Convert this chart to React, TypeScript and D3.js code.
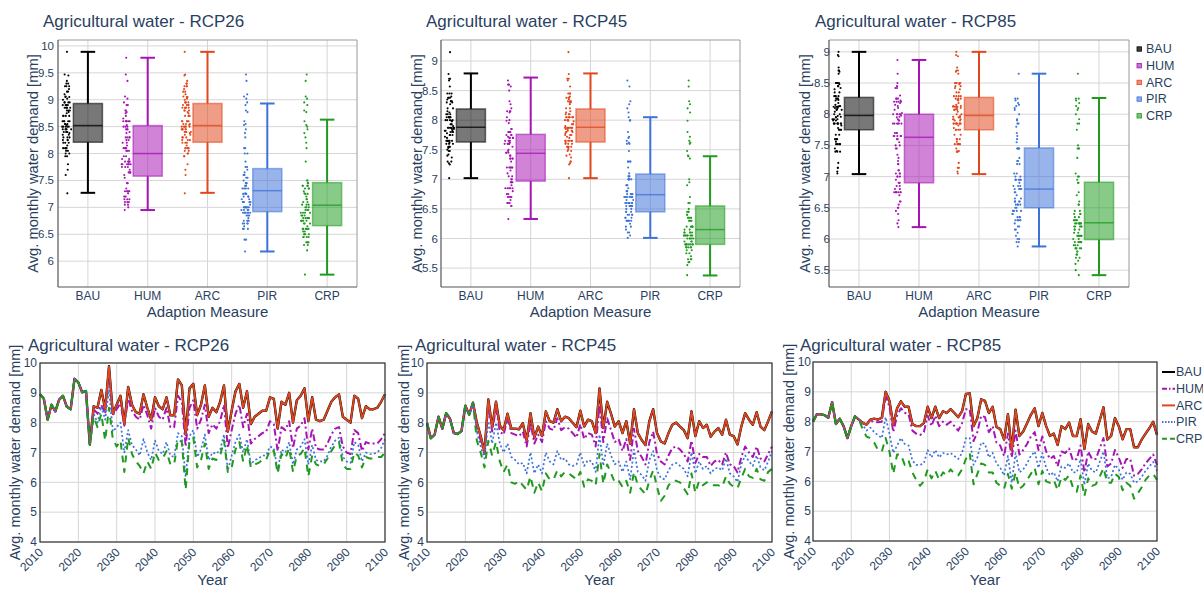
import React from 'react';
import * as d3 from 'd3';

// ---------- categories / axes ----------
const measures = ['BAU', 'HUM', 'ARC', 'PIR', 'CRP'];
const years = d3.range(2010, 2101);
const yearTicks = [2010, 2020, 2030, 2040, 2050, 2060, 2070, 2080, 2090, 2100];
const lineYTicks = [4, 5, 6, 7, 8, 9, 10];
const box26Ticks = [6, 6.5, 7, 7.5, 8, 8.5, 9, 9.5, 10];
const box45Ticks = [5.5, 6, 6.5, 7, 7.5, 8, 8.5, 9];
const box85Ticks = [5.5, 6, 6.5, 7, 7.5, 8, 8.5, 9];

// ---------- RCP26 yearly series (2010-2100) ----------
const pre26 = [8.95, 8.8, 8.1, 8.6, 8.38, 8.77, 8.9, 8.53, 8.45, 9.47, 9.35, 9.02, 9.06, 7.26];
const bau26 = [...pre26,
  8.55, 8.5, 9.1, 8.45, 9.89, 8.3,
  8.6, 8.9, 7.95, 9.2, 8.6, 8.35, 8.3, 8.95, 8.5, 8.1,
  8.85, 8.55, 8.45, 8.85, 8.25, 8.25, 9.45, 9.25, 7.6, 9.15,
  9.3, 8.25, 8.6, 9.25, 8.2, 8.5, 8.35, 8.7, 9.25, 7.7,
  8.4, 9.05, 9.3, 8.5, 9.05, 7.95, 8.2, 8.3, 8.4, 8.4,
  8.85, 8.8, 7.8, 8.7, 8.6, 9.0, 8.0, 8.75, 8.9, 9.15,
  8.05, 8.85, 8.1, 8.05, 8.1, 8.4, 8.7, 8.85, 8.95, 8.2,
  8.1, 8.0, 8.9, 8.8, 8.15, 8.55, 8.45, 8.45, 8.5, 8.7,
  8.95];
const hum26 = [...pre26,
  8.45, 8.3, 8.6, 8.3, 9.78, 8.25,
  8.45, 8.65, 7.9, 8.8, 8.4, 8.2, 8.1, 8.6, 8.25, 7.8,
  8.5, 8.2, 8.1, 8.5, 7.85, 7.85, 8.9, 8.7, 7.2, 8.5,
  8.75, 7.8, 8.1, 8.6, 7.65, 7.95, 7.8, 8.05, 8.6, 7.15,
  7.75, 8.3, 8.6, 7.85, 8.3, 7.3, 7.45, 7.55, 7.65, 7.7,
  8.05, 7.95, 7.05, 7.85, 7.75, 8.05, 7.15, 7.8, 7.9, 8.15,
  7.1, 7.8, 7.15, 7.1, 7.1, 7.3, 7.6, 7.8, 7.85, 7.2,
  7.0, 6.95, 7.75, 7.65, 7.05, 7.35, 7.3, 7.3, 7.3, 7.45,
  7.65];
const arc26 = bau26;
const pir26 = [...pre26,
  8.3, 8.0, 8.55, 8.1, 9.1, 7.7,
  7.85, 8.0, 7.0, 7.75, 7.25, 7.1, 6.9, 7.45, 7.0, 6.75,
  7.4, 7.05, 6.95, 7.35, 6.9, 6.85, 7.65, 7.55, 6.18, 7.55,
  7.75, 6.85, 7.1, 7.6, 6.75, 7.0, 6.95, 7.1, 7.6, 6.4,
  6.9, 7.35, 7.6, 7.0, 7.45, 6.6, 6.75, 6.8, 6.9, 6.9,
  7.2, 7.15, 6.4, 7.1, 7.0, 7.35, 6.6, 7.1, 7.2, 7.45,
  6.6, 7.25, 6.75, 6.7, 6.7, 6.9, 7.2, 7.4, 7.5, 6.85,
  6.7, 6.65, 7.35, 7.25, 6.7, 7.0, 6.95, 6.95, 7.0, 7.15,
  7.45];
const crp26 = [...pre26,
  8.2, 7.85, 8.3, 7.4, 8.5, 7.45,
  7.2, 7.4, 6.35, 7.5, 6.95, 6.7, 6.55, 6.3, 6.7, 6.45,
  7.0, 6.75, 6.8, 7.05, 6.6, 6.6, 7.45, 7.35, 5.75, 7.4,
  7.5, 6.5, 6.75, 7.3, 6.45, 6.8, 6.75, 6.9, 7.4, 6.35,
  6.5, 7.1, 7.35, 6.7, 7.25, 6.5, 6.6, 6.65, 6.75, 6.75,
  7.1, 7.05, 6.3, 6.95, 6.8, 7.15, 6.35, 6.9, 6.95, 7.15,
  6.2, 6.9, 6.6, 6.55, 6.6, 6.8, 7.05, 7.25, 7.35, 6.6,
  6.45, 6.45, 7.0, 6.9, 6.5, 6.85, 6.8, 6.8, 6.85, 6.85,
  7.0];

// ---------- RCP45 yearly series ----------
const pre45 = [7.99, 7.48, 7.6, 8.2, 7.8, 8.32, 8.13, 7.65, 7.62, 7.72, 8.57, 8.27, 8.67];
const bau45 = [...pre45,
  8.0, 7.55, 7.02, 8.78, 7.85, 8.7, 7.9,
  7.75, 8.3, 7.8, 7.8, 7.78, 7.98, 7.4, 8.32, 7.5, 7.87,
  7.55, 8.38, 8.05, 8.0, 8.45, 8.05, 8.2, 8.15, 8.0, 7.85,
  8.4, 7.87, 8.1, 8.05, 7.65, 9.15, 7.82, 8.7, 8.3, 7.87,
  8.05, 7.65, 8.05, 7.3, 8.45, 7.65, 7.42, 7.25, 8.05, 8.45,
  7.65, 7.37, 7.3, 7.65, 7.93, 8.0, 7.87, 7.75, 7.48, 8.38,
  7.55, 8.05, 7.82, 7.93, 7.53, 7.7, 7.82, 7.6, 8.1, 7.6,
  7.55, 7.27, 7.87, 8.32, 8.1, 7.93, 8.35, 7.87, 7.75, 8.05,
  8.38];
const hum45 = [...pre45,
  7.85, 7.4, 6.95, 8.6, 7.7, 8.5, 7.7,
  7.6, 8.15, 7.65, 7.6, 7.55, 7.7, 7.2, 8.0, 7.3, 7.6,
  7.35, 8.05, 7.8, 7.75, 8.15, 7.75, 7.85, 7.8, 7.65, 7.5,
  7.95, 7.45, 7.65, 7.6, 7.2, 8.6, 7.35, 8.15, 7.75, 7.35,
  7.45, 7.05, 7.45, 6.75, 7.8, 7.05, 6.85, 6.6, 7.35, 7.7,
  6.95, 6.7, 6.6, 6.9, 7.15, 7.2, 7.1, 6.95, 6.7, 7.4,
  6.65, 6.95, 6.85, 6.85, 6.55, 6.7, 6.75, 6.6, 7.0, 6.6,
  6.55, 6.33, 6.85, 7.2, 7.0, 6.85, 7.2, 6.8, 6.7, 6.95,
  7.2];
const arc45 = bau45;
const pir45 = [...pre45,
  7.7, 7.2, 6.8, 8.05, 7.3, 8.0, 7.3,
  7.0, 7.3, 6.85, 6.75, 6.6, 6.65, 6.3, 7.0, 6.3, 6.6,
  6.3, 7.0, 6.7, 6.6, 7.05, 6.75, 6.8, 6.6, 6.55, 6.6,
  7.0, 6.55, 6.75, 6.7, 6.35, 7.6, 6.55, 7.3, 6.9, 6.6,
  6.7, 6.35, 6.7, 6.1, 7.1, 6.35, 6.25, 6.05, 6.75, 7.05,
  6.4, 6.15, 6.1, 6.4, 6.6, 6.65, 6.55, 6.45, 6.2, 7.0,
  6.3, 6.7, 6.45, 6.55, 6.3, 6.45, 6.5, 6.4, 6.8, 6.3,
  6.2, 6.01, 6.6, 6.9, 6.7, 6.55, 6.9, 6.5, 6.4, 6.7,
  7.05];
const crp45 = [...pre45,
  7.4, 7.0, 6.5, 7.39, 6.9, 7.35, 6.7,
  6.35, 6.6, 6.0, 5.95, 6.05, 5.9, 5.75, 6.2, 5.65, 6.0,
  5.7, 6.3, 6.1, 6.1, 6.4, 6.2, 6.35, 6.3, 6.2, 6.1,
  6.35, 5.85, 6.1, 6.05, 5.9, 6.95, 5.95, 6.6, 6.3, 6.0,
  6.05, 5.85, 6.05, 5.65, 6.35, 5.9, 5.75, 5.6, 6.05, 6.4,
  5.85, 5.38, 5.55, 5.9, 6.05, 6.05, 6.0, 5.8, 5.6, 6.3,
  5.65, 6.05, 5.9, 6.0, 5.9, 5.9, 5.9, 5.85, 6.2, 5.95,
  5.85, 5.8, 6.15, 6.45, 6.2, 6.15, 6.45, 6.1, 6.05, 6.35,
  6.45];

// ---------- RCP85 yearly series ----------
const pre85 = [8.0, 8.25, 8.25, 8.22, 8.13, 8.65, 7.92, 8.1, 7.85, 7.45, 7.85, 8.18, 8.07];
const bau85 = [...pre85,
  7.96, 7.9, 8.07, 8.1, 8.07, 8.13, 9.0,
  8.7, 7.9, 8.45, 8.68, 8.5, 8.5, 7.92, 7.85, 7.85, 7.95,
  8.5, 8.12, 8.5, 8.12, 8.35, 8.29, 8.42, 8.29, 8.15, 8.35,
  8.93, 8.95, 7.85, 8.12, 8.75, 8.7, 8.29, 8.5, 7.82, 7.75,
  7.4, 8.25, 7.05, 8.4, 7.52, 7.67, 7.95, 8.23, 8.45, 7.85,
  8.29, 7.85, 7.52, 7.6, 7.22, 7.85, 7.75, 7.97, 7.52, 7.52,
  8.08, 7.08, 7.92, 7.67, 7.6, 8.04, 8.48, 7.4, 7.52, 8.12,
  7.85, 7.41, 7.75, 7.75, 7.14, 7.14, 7.4, 7.6, 7.78, 8.0,
  7.56];
const hum85 = [...pre85,
  7.96, 7.9, 8.02, 8.0, 7.98, 8.0, 8.87,
  8.5, 7.65, 8.2, 8.45, 8.3, 8.25, 7.7, 7.6, 7.55, 7.65,
  8.2, 7.85, 8.2, 7.85, 8.0, 7.9, 8.0, 7.85, 7.7, 7.95,
  8.42, 8.42, 7.35, 7.65, 8.2, 8.15, 7.65, 7.85, 7.3, 7.2,
  6.85, 7.6, 6.8, 7.7, 6.9, 7.05, 7.25, 7.5, 7.65, 7.05,
  7.5, 7.0, 6.75, 6.85, 6.5, 7.0, 6.95, 7.1, 6.7, 6.75,
  7.2, 6.3, 7.0, 6.75, 6.75, 7.1, 7.45, 6.5, 6.6, 7.05,
  6.8, 6.45, 6.75, 6.75, 6.19, 6.25, 6.4, 6.6, 6.75, 6.9,
  6.55];
const arc85 = bau85;
const pir85 = [...pre85,
  7.9, 7.7, 7.8, 7.65, 7.55, 7.45, 8.15,
  7.6, 6.95, 7.2, 7.45, 7.25, 7.2, 6.7, 6.55, 6.55, 6.6,
  7.05, 6.8, 7.05, 6.8, 6.95, 6.9, 6.95, 6.85, 6.75, 6.95,
  7.45, 7.45, 6.55, 6.8, 7.3, 7.25, 6.8, 6.95, 6.6, 6.45,
  6.2, 6.85, 5.95, 6.95, 6.3, 6.4, 6.6, 6.85, 7.0, 6.45,
  6.95, 6.45, 6.2, 6.3, 6.0, 6.5, 6.45, 6.6, 6.3, 6.3,
  6.75, 5.88, 6.6, 6.35, 6.3, 6.65, 7.0, 6.1, 6.15, 6.55,
  6.4, 6.05, 6.3, 6.25, 5.95, 6.0, 6.15, 6.35, 6.5, 6.65,
  6.35];
const crp85 = [...pre85,
  7.75, 7.5, 7.45, 7.3, 7.05, 7.0, 7.45,
  7.0, 6.25, 6.9, 6.9, 6.55, 6.7, 6.3, 6.05, 5.85, 6.0,
  6.4, 6.1, 6.35, 6.05, 6.3, 6.2, 6.4, 6.25, 6.2, 6.4,
  6.75, 6.95, 5.9, 6.25, 6.6, 6.55, 6.3, 6.3, 5.95, 5.85,
  5.75, 6.25, 5.75, 6.3, 5.75, 5.85, 6.05, 6.25, 6.45, 5.9,
  6.35, 6.0, 5.95, 6.05, 5.7, 6.15, 6.05, 6.2, 5.8, 5.65,
  6.2, 5.5, 6.1, 5.85, 5.9, 6.15, 6.45, 5.95, 5.95, 6.25,
  6.15, 5.7, 5.95, 5.85, 5.42, 5.6, 5.8, 6.05, 6.2, 6.25,
  6.05];

// ---------- box statistics (BAU, HUM, ARC, PIR, CRP) ----------
const box26Lo = [7.27, 6.95, 7.27, 6.18, 5.75];
const box26Q1 = [8.21, 7.58, 8.21, 6.92, 6.66];
const box26Med = [8.52, 8.0, 8.52, 7.31, 7.04];
const box26Q3 = [8.93, 8.52, 8.93, 7.72, 7.46];
const box26Hi = [9.89, 9.78, 9.89, 8.93, 8.63];

const box45Lo = [7.02, 6.33, 7.02, 6.01, 5.375];
const box45Q1 = [7.63, 6.97, 7.63, 6.45, 5.9];
const box45Med = [7.88, 7.44, 7.88, 6.74, 6.15];
const box45Q3 = [8.19, 7.76, 8.19, 7.09, 6.55];
const box45Hi = [8.79, 8.72, 8.79, 8.05, 7.39];

const box85Lo = [7.04, 6.19, 7.04, 5.88, 5.42];
const box85Q1 = [7.75, 6.9, 7.75, 6.5, 5.99];
const box85Med = [7.98, 7.63, 7.98, 6.8, 6.26];
const box85Q3 = [8.27, 8.0, 8.27, 7.46, 6.91];
const box85Hi = [9.0, 8.87, 9.0, 8.65, 8.26];

// ---------- styles ----------
const colors = ['#000000', '#a614b4', '#e2461c', '#3d72d8', '#1f9a1f'];
const dashes = ['', '7,3,2,3', '', '2,2.4', '7,6'];
const widths = [2.4, 2, 1.8, 1.7, 2];
const FONT = '"Liberation Sans", Arial, Helvetica, sans-serif';
const TXT = '#2a3f5f';
const GRID = '#d6d6d6';

function jit(i: number, k: number) {
  const s = Math.sin((i + 1) * 12.9898 + (k + 1) * 78.233) * 43758.5453;
  return s - Math.floor(s) - 0.5;
}

type BoxP = {
  title: string; titleX: number; left: number; right: number; top: number; bottom: number;
  yDomain: number[]; ticks: number[]; tickEnd: number; yTitleX: number;
  lo: number[]; q1: number[]; med: number[]; q3: number[]; hi: number[]; series: number[][];
};

function BoxPanel({ p }: { p: BoxP }) {
  const y = d3.scaleLinear().domain(p.yDomain).range([p.bottom, p.top]);
  const x = d3.scalePoint<string>().domain(measures).range([p.left, p.right]).padding(0.5);
  const step = x.step();
  const hw = step * 0.243;
  const cw = hw * 0.5;
  const cy = (p.top + p.bottom) / 2;
  const cxm = (p.left + p.right) / 2;
  return (
    <g>
      <text x={p.titleX} y={27} fontSize={17} fill={TXT}>{p.title}</text>
      {p.ticks.map((t) => (
        <line key={'h' + t} x1={p.left} x2={p.right} y1={y(t)} y2={y(t)} stroke={GRID} strokeWidth={1} />
      ))}
      {measures.map((m) => (
        <line key={'v' + m} x1={x(m)} x2={x(m)} y1={p.top} y2={p.bottom} stroke={GRID} strokeWidth={1} />
      ))}
      {p.ticks.map((t) => (
        <text key={'t' + t} x={p.tickEnd} y={y(t)} dy="0.35em" textAnchor="end" fontSize={11.5} fill={TXT}>{String(t)}</text>
      ))}
      {measures.map((m, k) => {
        const cx = x(m) as number;
        const vals = p.series[k];
        const dens = vals.map((v) => vals.filter((w) => Math.abs(w - v) < 0.2).length);
        const maxD = d3.max(dens) as number;
        const c = colors[k];
        return (
          <g key={m}>
            {vals.map((v, i) => (
              <circle key={i} cx={cx - hw * 1.48 + jit(i, k) * 10 * (0.25 + 0.75 * dens[i] / maxD)} cy={y(v)} r={1.05} fill={c} />
            ))}
            <line x1={cx} x2={cx} y1={y(p.hi[k])} y2={y(p.q3[k])} stroke={c} strokeWidth={2} />
            <line x1={cx} x2={cx} y1={y(p.q1[k])} y2={y(p.lo[k])} stroke={c} strokeWidth={2} />
            <line x1={cx - cw} x2={cx + cw} y1={y(p.hi[k])} y2={y(p.hi[k])} stroke={c} strokeWidth={2} />
            <line x1={cx - cw} x2={cx + cw} y1={y(p.lo[k])} y2={y(p.lo[k])} stroke={c} strokeWidth={2} />
            <rect x={cx - hw} width={hw * 2} y={y(p.q3[k])} height={y(p.q1[k]) - y(p.q3[k])} fill={c} fillOpacity={0.53} stroke={c} strokeOpacity={0.55} strokeWidth={1.5} />
            <line x1={cx - hw} x2={cx + hw} y1={y(p.med[k])} y2={y(p.med[k])} stroke={c} strokeOpacity={0.75} strokeWidth={1.5} />
            <text x={cx} y={300} textAnchor="middle" fontSize={12} fill={TXT}>{m}</text>
          </g>
        );
      })}
      <line x1={p.left} x2={p.right} y1={p.top} y2={p.top} stroke="#9a9a9a" strokeWidth={1} />
      <line x1={p.right} x2={p.right} y1={p.top} y2={p.bottom} stroke="#9a9a9a" strokeWidth={1} />
      <line x1={p.left} x2={p.left} y1={p.top} y2={p.bottom} stroke="#555" strokeWidth={1.2} />
      <line x1={p.left} x2={p.right} y1={p.bottom} y2={p.bottom} stroke="#555" strokeWidth={1.2} />
      <text x={cxm} y={317} textAnchor="middle" fontSize={15} fill={TXT}>Adaption Measure</text>
      <text transform={`translate(${p.yTitleX},${cy}) rotate(-90)`} textAnchor="middle" dy="0.35em" fontSize={14.7} fill={TXT}>Avg. monthly water demand [mm]</text>
    </g>
  );
}

type LineP = {
  title: string; titleX: number; left: number; right: number; top: number; bottom: number;
  yTitleX: number; tickEnd: number; series: number[][];
};

function LinePanel({ p }: { p: LineP }) {
  const x = d3.scaleLinear().domain([2010, 2100]).range([p.left, p.right]);
  const y = d3.scaleLinear().domain([4, 10]).range([p.bottom, p.top]);
  const line = d3.line<number>().x((_, i) => x(years[i])).y((v) => y(v));
  const cy = (p.top + p.bottom) / 2;
  const cxm = (p.left + p.right) / 2;
  return (
    <g>
      <text x={p.titleX} y={351} fontSize={17} fill={TXT}>{p.title}</text>
      {lineYTicks.map((t) => (
        <line key={'h' + t} x1={p.left} x2={p.right} y1={y(t)} y2={y(t)} stroke={GRID} strokeWidth={1} />
      ))}
      {yearTicks.map((t) => (
        <line key={'v' + t} x1={x(t)} x2={x(t)} y1={p.top} y2={p.bottom} stroke={GRID} strokeWidth={1} />
      ))}
      {p.series.map((s, k) => (
        <path key={k} d={line(s) as string} fill="none" stroke={colors[k]} strokeWidth={widths[k]} strokeDasharray={dashes[k] || undefined} strokeLinejoin="round" />
      ))}
      <rect x={p.left} y={p.top} width={p.right - p.left} height={p.bottom - p.top} fill="none" stroke="#333" strokeWidth={1.2} />
      {lineYTicks.map((t) => (
        <text key={'t' + t} x={p.tickEnd} y={y(t)} dy="0.35em" textAnchor="end" fontSize={12} fill={TXT}>{String(t)}</text>
      ))}
      {yearTicks.map((t) => (
        <text key={'x' + t} transform={`translate(${x(t) + 4},${p.bottom + 11}) rotate(-45)`} textAnchor="end" fontSize={12} fill={TXT}>{String(t)}</text>
      ))}
      <text x={cxm} y={585} textAnchor="middle" fontSize={15} fill={TXT}>Year</text>
      <text transform={`translate(${p.yTitleX},${cy}) rotate(-90)`} textAnchor="middle" dy="0.35em" fontSize={14.5} fill={TXT}>Avg. monthly water demand [mm]</text>
    </g>
  );
}

const boxPanels: BoxP[] = [
  { title: 'Agricultural water - RCP26', titleX: 43, left: 58, right: 357, top: 40, bottom: 287, yDomain: [5.52, 10.11], ticks: box26Ticks, tickEnd: 54, yTitleX: 33,
    lo: box26Lo, q1: box26Q1, med: box26Med, q3: box26Q3, hi: box26Hi, series: [bau26, hum26, arc26, pir26, crp26] },
  { title: 'Agricultural water - RCP45', titleX: 426, left: 441, right: 740, top: 40, bottom: 287, yDomain: [5.18, 9.355], ticks: box45Ticks, tickEnd: 438, yTitleX: 417,
    lo: box45Lo, q1: box45Q1, med: box45Med, q3: box45Q3, hi: box45Hi, series: [bau45, hum45, arc45, pir45, crp45] },
  { title: 'Agricultural water - RCP85', titleX: 815, left: 829, right: 1129, top: 40, bottom: 287, yDomain: [5.23, 9.19], ticks: box85Ticks, tickEnd: 830, yTitleX: 805,
    lo: box85Lo, q1: box85Q1, med: box85Med, q3: box85Q3, hi: box85Hi, series: [bau85, hum85, arc85, pir85, crp85] },
];

const linePanels: LineP[] = [
  { title: 'Agricultural water - RCP26', titleX: 28, left: 40, right: 385, top: 363, bottom: 542, yTitleX: 15, tickEnd: 37, series: [bau26, hum26, arc26, pir26, crp26] },
  { title: 'Agricultural water - RCP45', titleX: 415, left: 427, right: 772, top: 363, bottom: 542, yTitleX: 404, tickEnd: 424, series: [bau45, hum45, arc45, pir45, crp45] },
  { title: 'Agricultural water - RCP85', titleX: 800, left: 813, right: 1157, top: 362, bottom: 541, yTitleX: 789, tickEnd: 811, series: [bau85, hum85, arc85, pir85, crp85] },
];

export default function App() {
  return (
    <svg width={1203} height={590} style={{ position: 'absolute', left: 0, top: 0, background: '#fff' }} fontFamily={FONT}>
      <rect width={1203} height={590} fill="#fff" />
      {boxPanels.map((p, i) => <BoxPanel key={'b' + i} p={p} />)}
      {linePanels.map((p, i) => <LinePanel key={'l' + i} p={p} />)}
      {measures.map((m, k) => (
        <g key={'lg' + m}>
          <rect x={1137} y={49 + k * 16.7 - 2.2} width={4.4} height={4.4} fill={colors[k]} fillOpacity={k === 0 ? 0.75 : 0.6} stroke={colors[k]} strokeWidth={0.8} />
          <text x={1146} y={49 + k * 16.7} dy="0.35em" fontSize={12.5} fill={TXT}>{m}</text>
        </g>
      ))}
      {measures.map((m, k) => (
        <g key={'ll' + m}>
          <line x1={1162} x2={1175} y1={372 + k * 16.7} y2={372 + k * 16.7} stroke={colors[k]} strokeWidth={2} strokeDasharray={k === 1 ? '5,2,1.5,2' : k === 3 ? '1.5,1.5' : k === 4 ? '5,3' : undefined} />
          <text x={1176} y={372 + k * 16.7} dy="0.35em" fontSize={12.5} fill={TXT}>{m}</text>
        </g>
      ))}
    </svg>
  );
}
